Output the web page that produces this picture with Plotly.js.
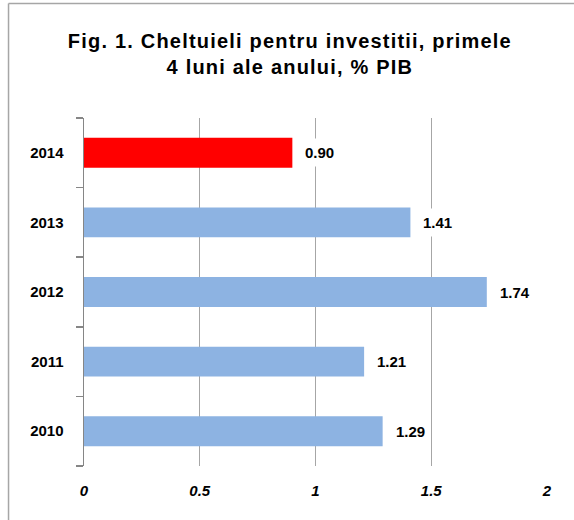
<!DOCTYPE html>
<html>
<head>
<meta charset="utf-8">
<script src="https://cdn.plot.ly/plotly-3.0.1.min.js"></script>
<style>
  html, body { margin: 0; padding: 0; background: #fff; }
  #chart { width: 574px; height: 520px; }
  /* the original title is set a little wide */
  #chart .gtitle { letter-spacing: 1.2px; }
</style>
</head>
<body>
<div id="chart"></div>
<script>
const years = ['2010', '2011', '2012', '2013', '2014'];
const values = [1.29, 1.21, 1.74, 1.41, 0.90];
const highlightYear = '2014';
const xTicks = [0, 0.5, 1, 1.5, 2];
const xTickLabels = ['0', '0.5', '1', '1.5', '2'];

const font = 'Liberation Sans, Arial, sans-serif';

const bars = {
    type: 'bar',
    orientation: 'h',
    y: years,
    x: values,
    marker: {
        color: years.map(yr => (yr === highlightYear ? '#ff0000' : '#8db3e2')),
        line: { width: 0 }
    },
    hoverinfo: 'none'
};

// value labels with white background, like the original
// (y given as category index: a string like '2014' would be read as a number)
const labels = years.map((yr, i) => ({
    x: values[i],
    y: i,
    xref: 'x',
    yref: 'y',
    text: values[i].toFixed(2),
    showarrow: false,
    xanchor: 'left',
    xshift: 7,
    bgcolor: '#ffffff',
    borderpad: 5,
    font: { family: font, size: 15, color: '#000', weight: 'bold' }
}));

const layout = {
    width: 574,
    height: 520,
    margin: { l: 84, r: 27, t: 118, b: 54 },
    paper_bgcolor: '#fff',
    plot_bgcolor: '#fff',
    bargap: 0.57,
    showlegend: false,
    title: {
        text: 'Fig. 1. Cheltuieli pentru investitii, primele<br>4 luni ale anului, % PIB',
        x: 0.505,
        xanchor: 'center',
        y: 0.908,
        yanchor: 'top',
        font: { family: font, size: 20, color: '#000', weight: 'bold' }
    },
    xaxis: {
        range: [0, 2],
        tickvals: xTicks,
        ticktext: xTickLabels,
        showgrid: true,
        gridcolor: '#a6a6a6',
        gridwidth: 1,
        zeroline: false,
        showline: false,
        ticks: '',
        ticklabelstandoff: 14,
        tickfont: { family: font, size: 15, color: '#000', weight: 'bold', style: 'italic' },
        fixedrange: true
    },
    yaxis: {
        type: 'category',
        categoryorder: 'array',
        categoryarray: years,
        range: [-0.5, years.length - 0.5],
        showgrid: false,
        zeroline: false,
        showline: true,
        linecolor: '#868686',
        linewidth: 1.5,
        ticks: 'outside',
        tickson: 'boundaries',
        ticklen: 7,
        tickcolor: '#868686',
        tickwidth: 1.5,
        ticklabelstandoff: 16,
        tickfont: { family: font, size: 15, color: '#000', weight: 'bold' },
        fixedrange: true
    },
    annotations: labels,
    shapes: [
        // outer frame, top and left edges only
        { type: 'line', xref: 'paper', yref: 'paper', x0: -0.163, x1: 1.2, y0: 1.329, y1: 1.329,
          line: { color: '#a6a6a6', width: 1.5 } },
        { type: 'line', xref: 'paper', yref: 'paper', x0: -0.163, x1: -0.163, y0: -0.3, y1: 1.329,
          line: { color: '#a6a6a6', width: 1.5 } }
    ]
};

Plotly.newPlot('chart', [bars], layout, { displayModeBar: false, staticPlot: true });
</script>
</body>
</html>
